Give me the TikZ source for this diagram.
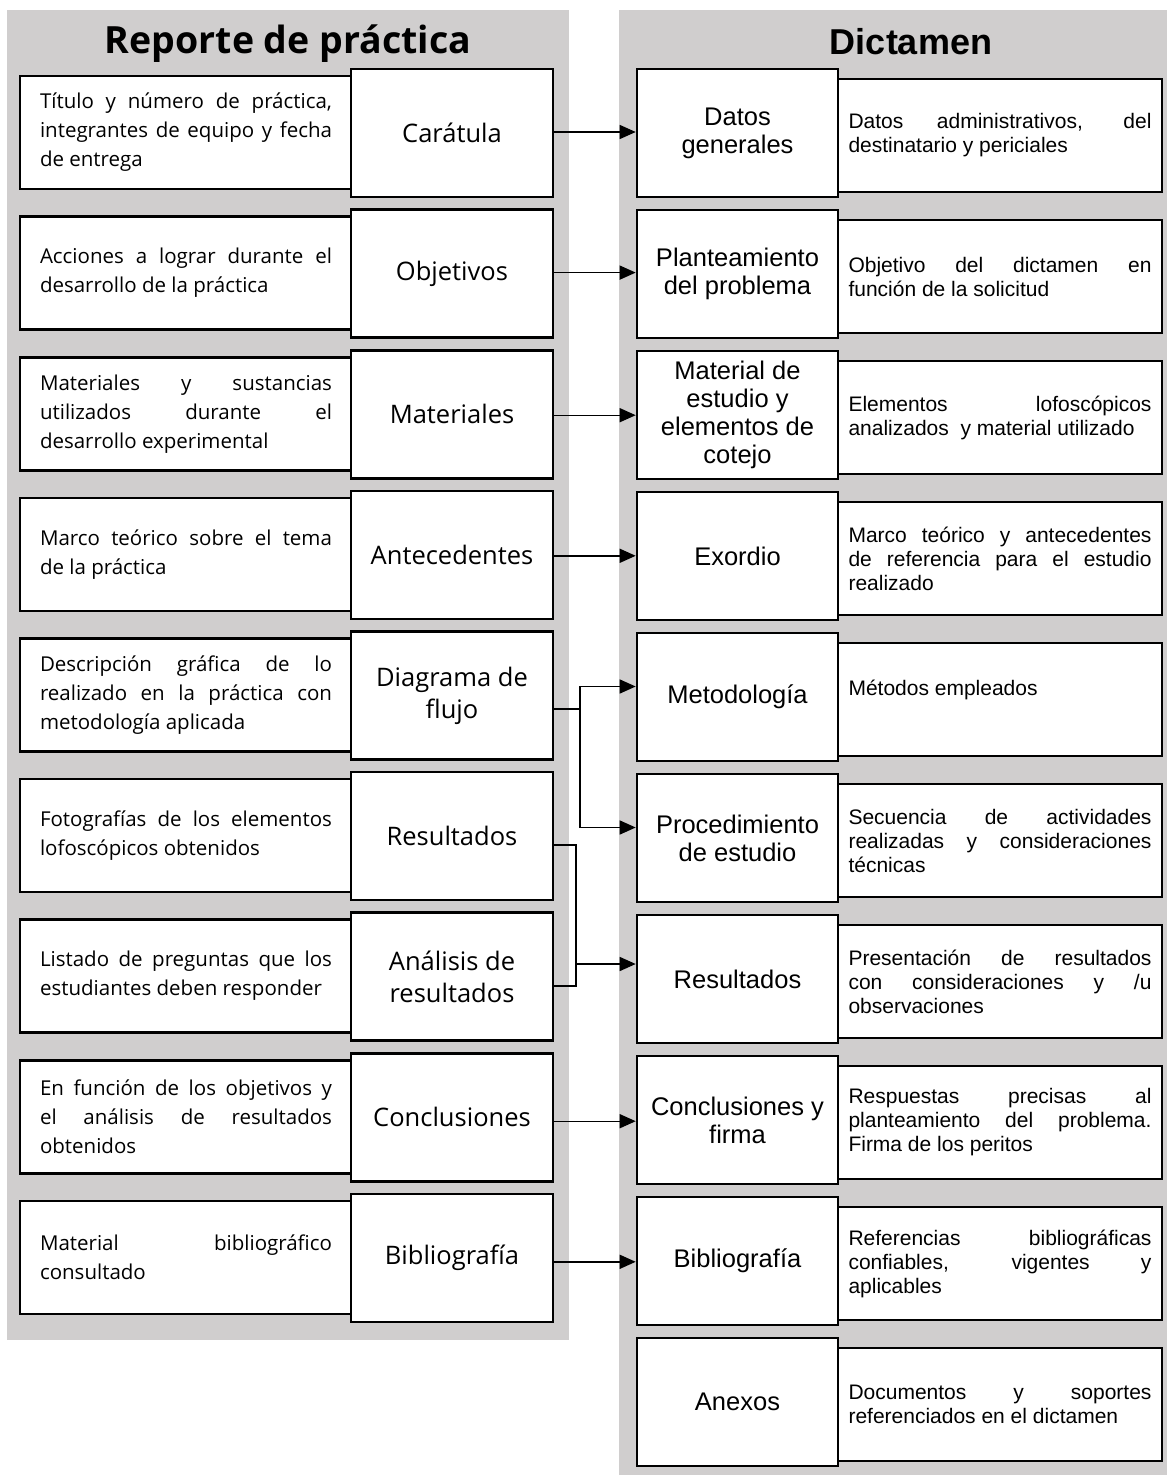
\documentclass[tikz,border=0pt]{standalone}
\usepackage{fontspec}
\setmainfont{Liberation Sans}
\newfontfamily\handfont{Open Sans}
\usetikzlibrary{arrows.meta}
\definecolor{panelgray}{RGB}{208,206,206}
\tolerance=9999
\hbadness=10000
\parindent=0pt

\begin{document}
\begin{tikzpicture}[x=1pt,y=-1pt,
  lbox/.style={draw, line width=2.6pt, fill=white, inner sep=0pt,
    minimum width=202pt, minimum height=128pt, align=center,
    font=\handfont\fontsize{25.5}{32}\selectfont},
  ldesc/.style={draw, line width=2.6pt, fill=white, inner sep=0pt,
    minimum width=332pt, minimum height=113pt, text width=292pt,
    align=justify, font=\handfont\fontsize{20.5}{29}\selectfont},
  rbox/.style={draw, line width=2.6pt, fill=white, inner sep=0pt,
    minimum width=201pt, minimum height=128pt, align=center,
    font=\fontsize{25.5}{28}\selectfont},
  rdesc/.style={draw, line width=2.6pt, fill=white, inner sep=0pt,
    minimum width=324pt, minimum height=113pt, text width=303pt,
    align=justify, font=\fontsize{21}{24}\selectfont},
  conn/.style={line width=1.4pt},
  arr/.style={conn, -{Triangle[length=16pt,width=14pt]}},
]
\useasboundingbox (0,0) rectangle (1167,1477);

% background panels
\fill[panelgray] (7,10) rectangle (569,1340);
\fill[panelgray] (619,10) rectangle (1167,1475);

% titles
\node[anchor=base, font=\handfont\bfseries\fontsize{37.5}{42}\selectfont] (tL) at (288,54) {Reporte de práctica};
\node[anchor=base, font=\bfseries\fontsize{36}{40}\selectfont] (tR) at (911,55) {Dictamen};

% left column: descriptions
\node[ldesc] (D1) at (186,132.5) {Título y número de práctica,\linebreak integrantes de equipo y fecha\linebreak de entrega};
\node[ldesc] (D2) at (186,273.1) {Acciones a lograr durante el\linebreak desarrollo de la práctica};
\node[ldesc] (D3) at (186,413.7) {Materiales y sustancias\linebreak utilizados durante el\linebreak desarrollo experimental};
\node[ldesc] (D4) at (186,554.3) {Marco teórico sobre el tema\linebreak de la práctica};
\node[ldesc] (D5) at (186,694.9) {Descripción gráfica de lo\linebreak realizado en la práctica con\linebreak metodología aplicada};
\node[ldesc] (D6) at (186,835.5) {Fotografías de los elementos\linebreak lofoscópicos obtenidos};
\node[ldesc] (D7) at (186,976.1) {Listado de preguntas que los\linebreak estudiantes deben responder};
\node[ldesc] (D8) at (186,1116.7) {En función de los objetivos y\linebreak el análisis de resultados\linebreak obtenidos};
\node[ldesc] (D9) at (186,1257.3) {Material bibliográfico\linebreak consultado};

% left column: section names
\node[lbox] (L1) at (452,133) {Carátula};
\node[lbox] (L2) at (452,273.6) {Objetivos};
\node[lbox] (L3) at (452,414.2) {Materiales};
\node[lbox] (L4) at (452,554.8) {Antecedentes};
\node[lbox] (L5) at (452,695.4) {Diagrama de\\flujo};
\node[lbox] (L6) at (452,836) {Resultados};
\node[lbox] (L7) at (452,976.6) {Análisis de\\resultados};
\node[lbox] (L8) at (452,1117.2) {Conclusiones};
\node[lbox] (L9) at (452,1257.8) {Bibliografía};

% right column: descriptions
\node[rdesc] (E1) at (1000,135.5) {Datos administrativos, del\linebreak destinatario y periciales};
\node[rdesc] (E2) at (1000,276.5) {Objetivo del dictamen en\linebreak función de la solicitud};
\node[rdesc] (E3) at (1000,417.5) {Elementos lofoscópicos\linebreak analizados~ y material utilizado};
\node[rdesc] (E4) at (1000,558.5) {Marco teórico y antecedentes\linebreak de referencia para el estudio\linebreak realizado};
\node[rdesc] (E5) at (1000,699.5) {Métodos empleados\\\mbox{}};
\node[rdesc] (E6) at (1000,840.5) {Secuencia de actividades\linebreak realizadas y consideraciones\linebreak técnicas};
\node[rdesc] (E7) at (1000,981.5) {Presentación de resultados\linebreak con consideraciones y /u\linebreak observaciones};
\node[rdesc] (E8) at (1000,1122.5) {Respuestas precisas al\linebreak planteamiento del problema.\linebreak Firma de los peritos};
\node[rdesc] (E9) at (1000,1263.5) {Referencias bibliográficas\linebreak confiables, vigentes y\linebreak aplicables};
\node[rdesc] (E10) at (1000,1404.5) {Documentos y soportes\linebreak referenciados en el dictamen};

% right column: section names
\node[rbox] (R1) at (737.5,133) {Datos\\generales};
\node[rbox] (R2) at (737.5,274) {Planteamiento\\del problema};
\node[rbox] (R3) at (737.5,415) {Material de\\estudio y\\elementos de\\cotejo};
\node[rbox] (R4) at (737.5,556) {Exordio};
\node[rbox] (R5) at (737.5,697) {Metodología};
\node[rbox] (R6) at (737.5,838) {Procedimiento\\de estudio};
\node[rbox] (R7) at (737.5,979) {Resultados};
\node[rbox] (R8) at (737.5,1120) {Conclusiones y\\firma};
\node[rbox] (R9) at (737.5,1261) {Bibliografía};
\node[rbox] (R10) at (737.5,1402) {Anexos};

% one-to-one connectors
\draw[arr] ([yshift=1pt]L1.east) -- ([yshift=1pt]L1.east -| R1.west);
\draw[arr] ([yshift=1pt]L2.east) -- ([yshift=1pt]L2.east -| R2.west);
\draw[arr] ([yshift=-1pt]L3.east) -- ([yshift=-1pt]L3.east -| R3.west);
\draw[arr] ([yshift=-1pt]L4.east) -- ([yshift=-1pt]L4.east -| R4.west);
\draw[arr] ([yshift=-4pt]L8.east) -- ([yshift=-4pt]L8.east -| R8.west);
\draw[arr] ([yshift=-4pt]L9.east) -- ([yshift=-4pt]L9.east -| R9.west);

% flow diagram feeds methodology and procedure
\coordinate (fx) at (580,0);
\coordinate (f0) at ([yshift=-13.6pt]L5.east);
\coordinate (m5) at ([yshift=10.5pt]R5.west);
\coordinate (m6) at ([yshift=10.5pt]R6.west);
\draw[conn] (f0) -- (f0 -| fx);
\draw[arr] (fx |- m6) -- (fx |- m5) -- (m5);
\draw[arr] (fx |- m6) -- (m6);

% results and analysis join into results
\coordinate (bx) at (576,0);
\coordinate (b1) at ([yshift=-9pt]L6.east);
\coordinate (b2) at ([yshift=-9.4pt]L7.east);
\coordinate (m7) at ([yshift=15pt]R7.west);
\draw[conn] (b1) -- (b1 -| bx) -- (b2 -| bx) -- (b2);
\draw[arr] (bx |- m7) -- (m7);
\end{tikzpicture}
\end{document}
